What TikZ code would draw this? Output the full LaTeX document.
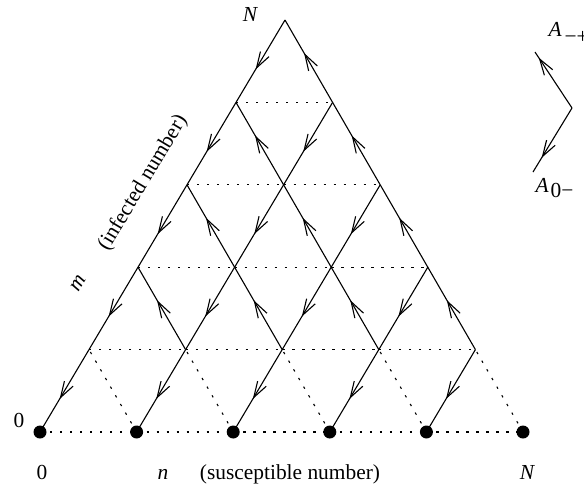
\documentclass[tikz,border=0pt]{standalone}
\usepackage{fontspec}
\setmainfont{Liberation Serif}
\usetikzlibrary{arrows.meta, decorations.markings, calc}

\tikzset{
    arrmid/.style={decoration={markings, mark=at position #1 with {\arrow{Straight Barb[length=8pt, width=5pt]}}}, postaction={decorate}},
    arrmid/.default=0.6,
    dotline/.style={dash pattern=on 1.2pt off 3.8pt},
    site/.style={circle, fill, minimum size=6.5pt},
}

\begin{document}
\begin{tikzpicture}[x=0.5pt, y=-0.5pt, line width=0.55pt, font=\fontsize{10.7}{13}\selectfont, every node/.style={inner sep=0pt}]
    \useasboundingbox (0,0) rectangle (584,484);

    % Punti del reticolo (n,m)
    \foreach \m in {0,...,5} {
        \pgfmathtruncatemacro\last{5-\m}
        \foreach \n in {0,...,\last}
            \coordinate (p-\n-\m) at ({40+96.6*\n+49*\m}, {432-82.4*\m});
    }

    % Orizzontali
    \foreach \m in {0,...,4} {
        \pgfmathtruncatemacro\last{4-\m}
        \foreach \n in {0,...,\last} {
            \pgfmathtruncatemacro\nn{\n+1}
            \draw[dotline] (p-\n-\m) -- (p-\nn-\m);
        }
    }
    \foreach \n in {1,...,5} {
        \pgfmathtruncatemacro\k{\n-1}
        \draw[dotline] (p-\n-0) -- (p-\k-1);
    }

    % m -> m-1
    \foreach \m in {0,...,4} {
        \pgfmathtruncatemacro\last{4-\m}
        \foreach \n in {0,...,\last} {
            \pgfmathtruncatemacro\mm{\m+1}
            \draw[arrmid] (p-\n-\mm) -- (p-\n-\m);
        }
    }

    % (n,m) -> (n-1,m+1)
    \foreach \m in {1,...,4} {
        \pgfmathtruncatemacro\last{5-\m}
        \foreach \n in {1,...,\last} {
            \pgfmathtruncatemacro\k{\n-1}
            \pgfmathtruncatemacro\mm{\m+1}
            \draw[arrmid] (p-\n-\m) -- (p-\k-\mm);
        }
    }

    % Stati assorbenti
    \foreach \n in {0,...,5}
        \node[site] (s\n) at (p-\n-0) {};

    % Assi
    \node[anchor=base] (ntop) at (250,21) {\itshape N};
    \node[anchor=base] (mzero) at (19,427) {0};
    \node[anchor=base] (nzero) at (42,479) {0};
    \node[anchor=base] (nlab) at (163,479) {\itshape n};
    \node[anchor=base] (ntext) at (290,479) {(susceptible number)};
    \node[anchor=base] (nmax) at (527,479) {\itshape N};
    \node[rotate=59] (mlab) at (78,283) {\itshape m};
    \node[rotate=59] (mtext) at (143,183) {(infected number)};

    % Legenda
    \coordinate (lg) at (572,108);
    \coordinate (lgup) at (535,52);
    \coordinate (lgdn) at (533,172);
    \draw[arrmid=0.9] (lg) -- (lgup);
    \draw[arrmid=0.78] (lg) -- (lgdn);
    \node[anchor=base west] (aup) at (548,36) {\itshape A\upshape\hspace{1.5pt}\raisebox{-3.5pt}{−+}};
    \node[anchor=base west] (adn) at (535,192) {\itshape A\upshape\hspace{1pt}\raisebox{-2.5pt}{0−}};
\end{tikzpicture}
\end{document}
